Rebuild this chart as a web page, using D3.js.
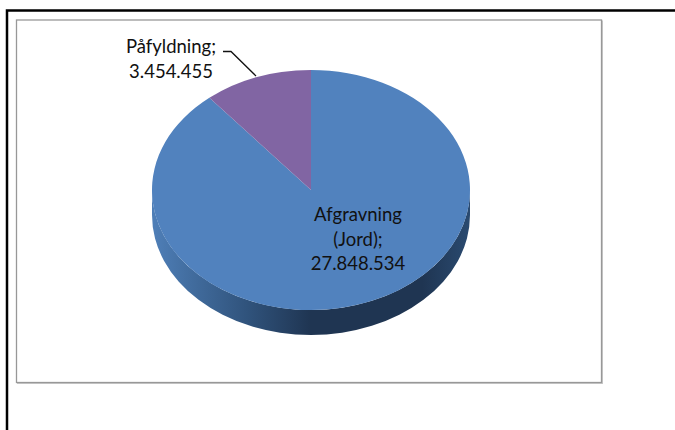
<!DOCTYPE html>
<html>
<head>
<meta charset="utf-8">
<script src="https://cdn.jsdelivr.net/npm/d3@7"></script>
<style>
  html, body { margin: 0; padding: 0; background: #fff; }
  svg { display: block; }
  text { font-family: Lato, "Open Sans", sans-serif; font-size: 18.5px; fill: #111; text-anchor: middle; }
</style>
</head>
<body>
<div id="chart"></div>
<script>
const categories = ['Afgravning (Jord)', 'Påfyldning'];
const values = [27848534, 3454455];
const colors = ['#5182be', '#8165a3'];

const width = 675;
const height = 430;
const cx = 311, cy = 190, rx = 159, ry = 120, depth = 25;

const da = d3.formatLocale({ decimal: ',', thousands: '.', grouping: [3], currency: ['', ' kr'] });
const fmt = da.format(',d');

const svg = d3.select('#chart')
    .append('svg')
    .attr('width', width)
    .attr('height', height)
    .attr('viewBox', [0, 0, width, height]);

// page lines behind the chart
svg.append('path')
    .attr('d', `M${width},10.5H7V${height}`)
    .attr('fill', 'none')
    .attr('stroke', '#000')
    .attr('stroke-width', 2.5);

// chart frame, with a soft lighter edge
svg.append('rect')
    .attr('x', 17.5).attr('y', 21)
    .attr('width', 585).attr('height', 362.5)
    .attr('fill', 'none')
    .attr('stroke', '#c8c8c8')
    .attr('stroke-width', 1);
svg.append('rect')
    .attr('x', 16.5).attr('y', 20)
    .attr('width', 585).attr('height', 362.5)
    .attr('fill', '#fff')
    .attr('stroke', '#989898')
    .attr('stroke-width', 1.3);

const defs = svg.append('defs');
const grad = defs.append('linearGradient')
    .attr('id', 'wall')
    .attr('gradientUnits', 'userSpaceOnUse')
    .attr('x1', cx - rx).attr('x2', cx + rx)
    .attr('y1', 0).attr('y2', 0);
[[0, '#4f7fb8'], [0.12, '#426d9f'], [0.3, '#30537c'], [0.5, '#1f3552'], [0.85, '#1f3552'], [1, '#2a4a70']]
    .forEach(s => grad.append('stop').attr('offset', s[0]).attr('stop-color', s[1]));

// side wall of the pie (the first slice covers the whole visible front)
svg.append('path')
    .attr('d', `M${cx - rx},${cy}A${rx},${ry} 0 0 0 ${cx + rx},${cy}v${depth}A${rx},${ry} 0 0 1 ${cx - rx},${cy + depth}Z`)
    .attr('fill', 'url(#wall)');

const pie = d3.pie().sort(null);
const arc = d3.arc().innerRadius(0).outerRadius(rx);

svg.append('g')
    .attr('transform', `translate(${cx},${cy}) scale(1,${ry / rx})`)
    .selectAll('path')
    .data(pie(values))
    .join('path')
    .attr('d', arc)
    .attr('fill', (d, i) => colors[i]);

// leader line for the small slice
svg.append('path')
    .attr('d', 'M223,51.5H231L256,76')
    .attr('fill', 'none')
    .attr('stroke', '#111')
    .attr('stroke-width', 1.3);

const labelLines = [
    { x: 358, y: [221, 245.5, 270], lines: ['Afgravning', '(Jord);', fmt(values[0])] },
    { x: 171, y: [53, 78], lines: [categories[1] + ';', fmt(values[1])] }
];

labelLines.forEach(l => {
    l.lines.forEach((t, i) => {
        svg.append('text').attr('x', l.x).attr('y', l.y[i]).text(t);
    });
});
</script>
</body>
</html>
